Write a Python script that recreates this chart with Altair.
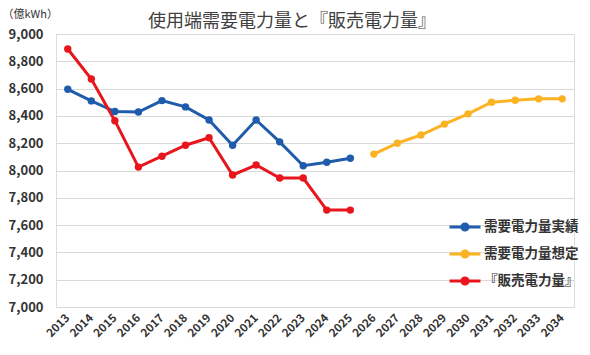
import altair as alt
import pandas as pd

years_actual = [str(y) for y in range(2013, 2026)]
years_forecast = [str(y) for y in range(2026, 2035)]
all_years = years_actual + years_forecast

demand_actual = [8595, 8510, 8432, 8428, 8512, 8466, 8370, 8185, 8370, 8210, 8035, 8060, 8090]
demand_forecast = [8120, 8200, 8260, 8340, 8415, 8500, 8515, 8525, 8525]
sales = [8890, 8670, 8365, 8025, 8105, 8185, 8240, 7967, 8040, 7945, 7945, 7710, 7710]

series_names = ["需要電力量実績", "需要電力量想定", "『販売電力量』"]
series_colors = ["#1F5CAB", "#FBB323", "#E8161C"]
y_ticks = [7000, 7200, 7400, 7600, 7800, 8000, 8200, 8400, 8600, 8800, 9000]

rows = []
for y, v in zip(years_actual, demand_actual):
    rows.append({"year": y, "value": v, "series": series_names[0]})
for y, v in zip(years_forecast, demand_forecast):
    rows.append({"year": y, "value": v, "series": series_names[1]})
for y, v in zip(years_actual, sales):
    rows.append({"year": y, "value": v, "series": series_names[2]})
df = pd.DataFrame(rows)

FONT = "Noto Sans CJK JP"

circle = lambda r: f"M-{r},0A{r},{r} 0 1,0 {r},0A{r},{r} 0 1,0 -{r},0"
legend_path = "M-1,0H1" + circle(0.08) + circle(0.2)

color = alt.Color(
    "series:N",
    scale=alt.Scale(domain=series_names, range=series_colors),
    legend=alt.Legend(
        title=None,
        orient="none",
        legendX=392,
        legendY=176,
        symbolType=legend_path,
        symbolSize=961,
        symbolStrokeWidth=3,
        labelFont=FONT,
        labelFontSize=13.5,
        labelFontWeight="bold",
        labelColor="#333333",
        labelOffset=2,
        rowPadding=0,
        padding=0,
        labelLimit=200,
    ),
)

x = alt.X(
    "year:O",
    scale=alt.Scale(domain=all_years),
    axis=alt.Axis(
        title=None,
        labelAngle=-45,
        labelAlign="right",
        labelBaseline="middle",
        labelFont=FONT,
        labelFontSize=11.5,
        labelFontWeight="bold",
        labelColor="#333333",
        labelPadding=9,
        ticks=False,
        domain=False,
        grid=False,
    ),
)

y = alt.Y(
    "value:Q",
    scale=alt.Scale(domain=[7000, 9000], nice=False, zero=False),
    axis=alt.Axis(
        title="（億kWh）",
        titleAngle=0,
        titleAlign="left",
        titleBaseline="middle",
        titleX=-54,
        titleY=-20,
        titleFont=FONT,
        titleFontSize=11,
        titleFontWeight="normal",
        titleColor="#333333",
        values=y_ticks,
        format=",d",
        labelFont=FONT,
        labelFontSize=13,
        labelFontWeight="bold",
        labelColor="#333333",
        labelPadding=13,
        ticks=False,
        domain=False,
        gridColor="#D9D9D9",
        gridWidth=1.2,
    ),
)

base = alt.Chart(df).encode(x=x, y=y, color=color, detail="series:N")
lines = base.mark_line(strokeWidth=3)
points = base.mark_circle(size=55, opacity=1)

chart = (
    alt.layer(lines, points)
    .properties(
        width=518,
        height=273,
        padding={"left": 48, "top": 26, "right": 8, "bottom": 48},
        autosize=alt.AutoSizeParams(type="none"),
        title=alt.TitleParams(
            "使用端需要電力量と『販売電力量』",
            font=FONT,
            fontSize=18,
            fontWeight="normal",
            color="#404040",
            anchor="middle",
            dx=-23,
            dy=29,
            offset=6,
        ),
    )
    .configure_view(stroke=None)
    .configure(background="white")
)

chart.save("out.html", embed_options={"renderer": "svg", "actions": False})
